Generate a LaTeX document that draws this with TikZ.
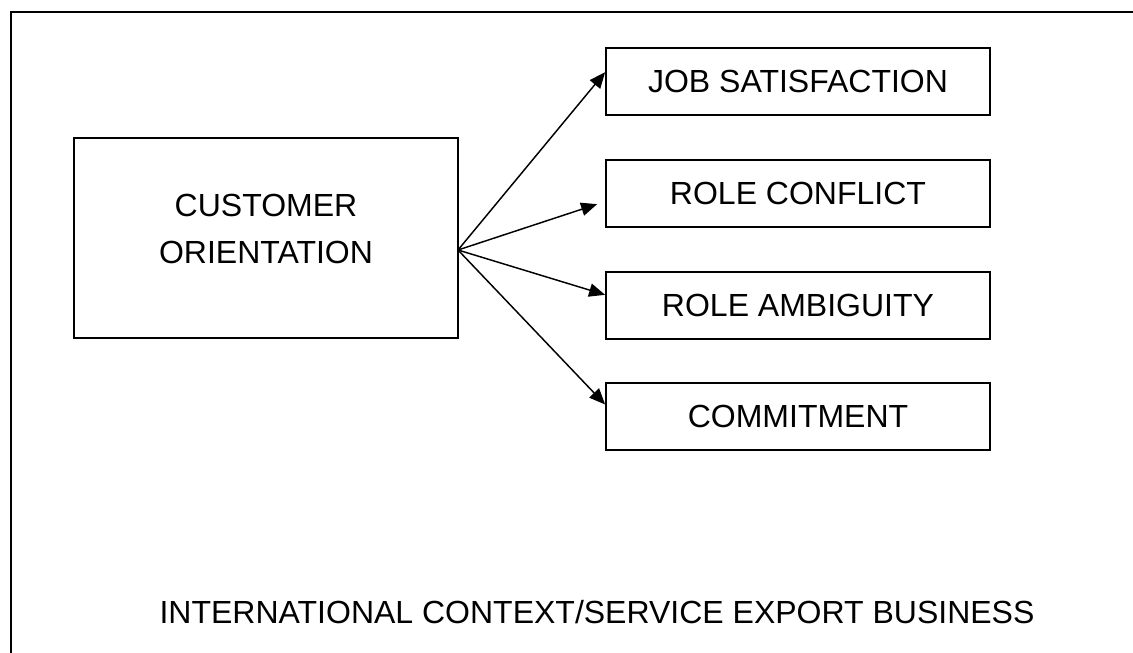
\documentclass[tikz,border=0pt]{standalone}
\usepackage{fontspec}
\setmainfont{Liberation Sans}
\usetikzlibrary{arrows.meta}

\begin{document}
\begin{tikzpicture}[x=0.75pt,y=-0.75pt,
    box/.style={draw,line width=1.3pt,minimum width=288pt,minimum height=50pt,inner sep=0pt},
    lbl/.style={font=\fontsize{24}{35}\selectfont,align=center},
    arr/.style={-{Triangle[length=12pt,width=10pt]},line width=1.1pt}]
    \useasboundingbox (0,0) rectangle (1133,653);

    % open frame
    \draw[line width=1.6pt] (11,653) -- (11,12) -- (1133,12);

    \node[box,minimum height=150pt] (cust) at (266,238) {};
    \node[lbl] (custtext) at ([yshift=7pt]cust.center) {CUSTOMER\\ORIENTATION};

    \node[box,lbl] (job) at (798,81.5) {JOB SATISFACTION};
    \node[box,lbl] (conf) at (798,193.5) {ROLE CONFLICT};
    \node[box,lbl] (amb) at (798,305.5) {ROLE AMBIGUITY};
    \node[box,lbl] (com) at (798,416.5) {COMMITMENT};

    \coordinate (hub) at (458,250);
    \draw[arr] (hub) to ([yshift=7pt]job.west);
    \draw[arr] (hub) to ([xshift=-6pt,yshift=-8pt]conf.west);
    \draw[arr] (hub) to ([yshift=8pt]amb.west);
    \draw[arr] (hub) to ([yshift=9pt]com.west);

    \node[lbl] (ctx) at (597,612) {INTERNATIONAL CONTEXT/SERVICE EXPORT BUSINESS};
\end{tikzpicture}
\end{document}
